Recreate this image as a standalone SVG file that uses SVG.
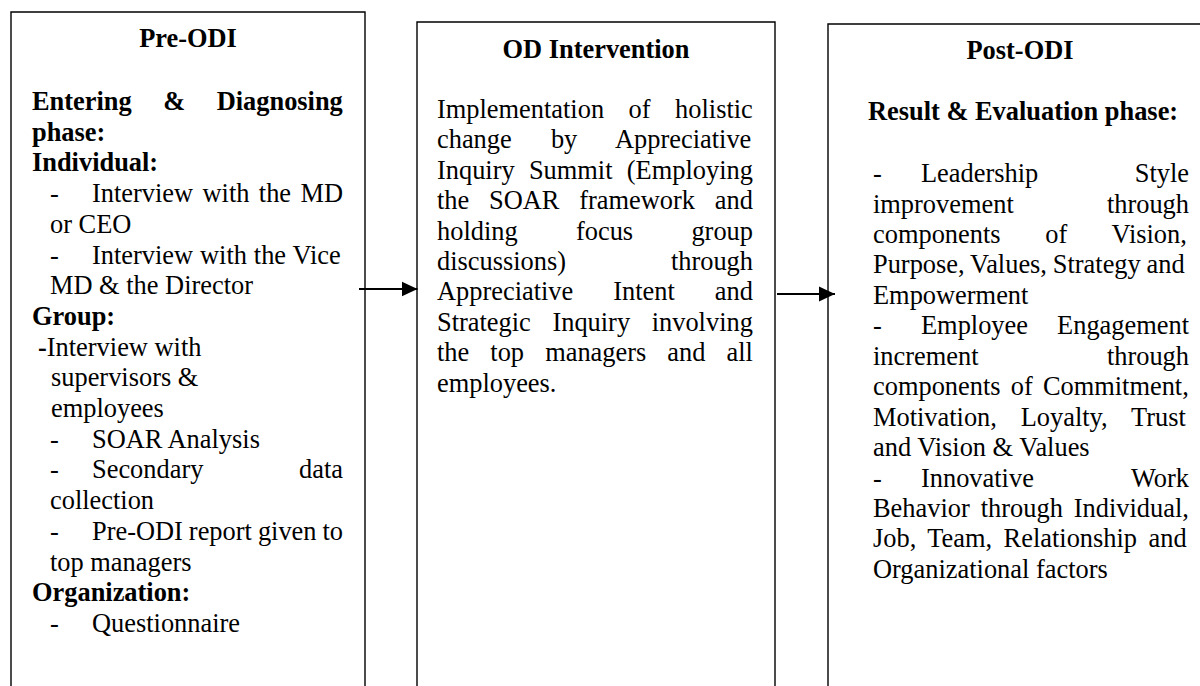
<svg xmlns="http://www.w3.org/2000/svg" width="1200" height="686" viewBox="0 0 1200 686">
<defs>
<style>
.box{fill:none;stroke:#000;stroke-width:1.4}
text{font-family:"Liberation Serif","Times New Roman",serif;font-size:26.4px;fill:#000}
.b{font-weight:bold}
.c{text-anchor:middle}
.e{text-anchor:end}
.conn{stroke:#000;stroke-width:2;fill:none}
</style>
<marker id="ah" markerWidth="16" markerHeight="16" refX="16" refY="8" orient="auto" markerUnits="userSpaceOnUse">
<path d="M0,0.5 L16,8 L0,15.5 Z" fill="#000"/>
</marker>
</defs>
<rect width="1200" height="686" fill="#fff"/>

<g id="pre-odi">
<path class="box" d="M11,700 V12 H365 V700"/>
<text class="b c" x="188" y="47">Pre-ODI</text>
<text class="b" x="32" y="110" style="word-spacing:24.9px">Entering &amp; Diagnosing</text>
<text class="b" x="32" y="140.7">phase:</text>
<text class="b" x="32" y="171.4">Individual:</text>
<text x="50" y="202">-</text>
<text x="92" y="202" style="word-spacing:2.8px">Interview with the MD</text>
<text x="50" y="232.8">or CEO</text>
<text x="50" y="263.5">-</text>
<text x="92" y="263.5" style="word-spacing:0.3px">Interview with the Vice</text>
<text x="50" y="294.2">MD &amp; the Director</text>
<text class="b" x="32" y="324.9">Group:</text>
<text x="38" y="355.6"><tspan class="b">-</tspan>Interview with</text>
<text x="51" y="386.3">supervisors &amp;</text>
<text x="51" y="417">employees</text>
<text x="50" y="447.7">-</text>
<text x="92" y="447.7">SOAR Analysis</text>
<text x="50" y="478.4">-</text>
<text x="92" y="478.4">Secondary</text>
<text class="e" x="343" y="478.4">data</text>
<text x="50" y="509.1">collection</text>
<text x="50" y="539.8">-</text>
<text x="92" y="539.8" style="word-spacing:-0.6px">Pre-ODI report given to</text>
<text x="50" y="570.5">top managers</text>
<text class="b" x="32" y="601.2">Organization:</text>
<text x="50" y="631.9">-</text>
<text x="92" y="631.9">Questionnaire</text>
</g>

<g id="od-intervention">
<path class="box" d="M417,700 V22 H775 V700"/>
<text class="b c" x="596" y="58">OD Intervention</text>
<text x="437" y="118" style="word-spacing:17.9px">Implementation of holistic</text>
<text x="437" y="148.4" style="word-spacing:32.6px">change by Appreciative</text>
<text x="437" y="178.8" style="word-spacing:7.65px">Inquiry Summit (Employing</text>
<text x="437" y="209.2" style="word-spacing:13.2px">the SOAR framework and</text>
<text x="437" y="239.6" style="word-spacing:51.7px">holding focus group</text>
<text x="437" y="270">discussions)</text>
<text class="e" x="753" y="270">through</text>
<text x="437" y="300.4" style="word-spacing:33.4px">Appreciative Intent and</text>
<text x="437" y="330.8" style="word-spacing:15px">Strategic Inquiry involving</text>
<text x="437" y="361.2" style="word-spacing:14.5px">the top managers and all</text>
<text x="437" y="391.6">employees.</text>
</g>

<g id="post-odi">
<path class="box" d="M828,700 V24 H1205"/>
<text class="b c" x="1020" y="59">Post-ODI</text>
<text class="b" x="868" y="120">Result &amp; Evaluation phase:</text>
<text x="873" y="182">-</text>
<text x="921" y="182">Leadership</text>
<text class="e" x="1189" y="182">Style</text>
<text x="873" y="212.5">improvement</text>
<text class="e" x="1189" y="212.5">through</text>
<text x="873" y="242.9" style="word-spacing:38.1px">components of Vision,</text>
<text x="873" y="273.4" style="word-spacing:-0.75px">Purpose, Values, Strategy and</text>
<text x="873" y="303.8">Empowerment</text>
<text x="873" y="334.3">-</text>
<text x="921" y="334.3">Employee</text>
<text class="e" x="1189" y="334.3">Engagement</text>
<text x="873" y="364.7">increment</text>
<text class="e" x="1189" y="364.7">through</text>
<text x="873" y="395.2" style="word-spacing:3.6px">components of Commitment,</text>
<text x="873" y="425.6" style="word-spacing:17.2px">Motivation, Loyalty, Trust</text>
<text x="873" y="456.1">and Vision &amp; Values</text>
<text x="873" y="486.5">-</text>
<text x="921" y="486.5">Innovative</text>
<text class="e" x="1189" y="486.5">Work</text>
<text x="873" y="517" style="word-spacing:4.4px">Behavior through Individual,</text>
<text x="873" y="547.4" style="word-spacing:4.9px">Job, Team, Relationship and</text>
<text x="873" y="577.9">Organizational factors</text>
</g>

<g id="connectors">
<line class="conn" x1="359" y1="289" x2="417.5" y2="289" marker-end="url(#ah)"/>
<line class="conn" x1="777" y1="294" x2="835" y2="294" marker-end="url(#ah)"/>
</g>
</svg>
